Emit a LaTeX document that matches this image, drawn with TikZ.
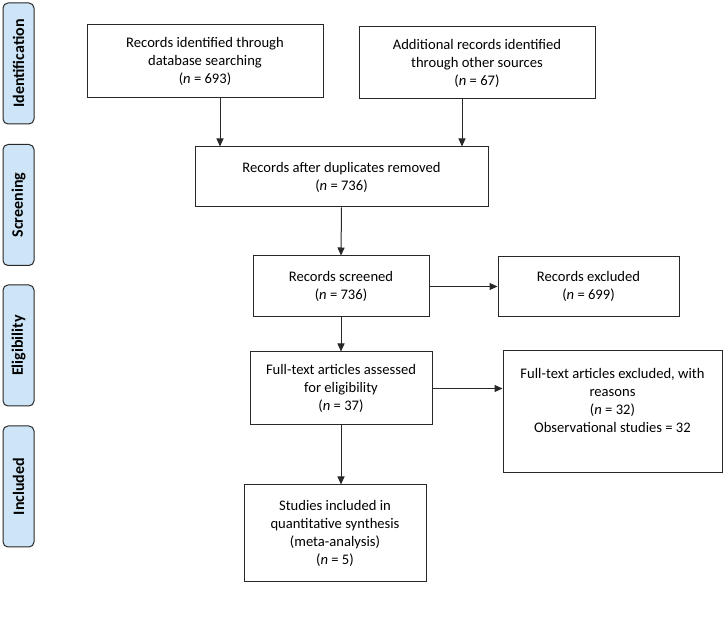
\documentclass[tikz,border=0pt]{standalone}
\usepackage{fontspec}
\setmainfont{Carlito}
\usetikzlibrary{arrows.meta,positioning}

\definecolor{colphase}{RGB}{205,229,246}
\definecolor{colline}{RGB}{40,40,40}

\begin{document}
\begin{tikzpicture}[x=1pt,y=-1pt,
  box/.style={draw=colline, line width=1pt, align=center, inner sep=2pt,
    font=\fontsize{14.6}{18}\selectfont},
  phase/.style={draw=colline, line width=1pt, fill=colphase, rounded corners=5pt,
    minimum width=121pt, minimum height=31pt, rotate=90,
    font=\fontsize{16}{18}\selectfont\bfseries},
  arr/.style={-{Triangle[length=8pt,width=7pt]}, draw=colline, line width=1pt}]

\useasboundingbox (0,0) rectangle (724,620);

%Phases
\node[phase] (ph_ident) at (18.5,63.5) {Identification};
\node[phase] (ph_screen) at (18.5,205) {Screening};
\node[phase] (ph_elig) at (18.5,345.5) {Eligibility};
\node[phase] (ph_incl) at (18.5,486.5) {Included};

%Identification
\node[box, minimum width=236pt, minimum height=73pt] (rec_db) at (205,61.5)
  {Records identified through\\ database searching\\ (\textit{n} = 693)};
\node[box, minimum width=236pt, minimum height=72pt] (rec_other) at (477,63)
  {Additional records identified\\ through other sources\\ (\textit{n} = 67)};

%Screening
\node[box, minimum width=293pt, minimum height=60pt] (rec_dup) at (341.5,177)
  {Records after duplicates removed\\ (\textit{n} = 736)};
\node[box, minimum width=176pt, minimum height=61pt] (rec_screen) at (341,286.5)
  {Records screened\\ (\textit{n} = 736)};
\node[box, minimum width=181pt, minimum height=60pt] (rec_excl) at (588.5,286.5)
  {Records excluded\\ (\textit{n} = 699)};

%Eligibility
\node[box, minimum width=182pt, minimum height=73pt] (ft_assess) at (341,388.5)
  {Full-text articles assessed\\ for eligibility\\ (\textit{n} = 37)};
\node[box, minimum width=219pt, minimum height=122pt] (ft_excl) at (612.5,412)
  {Full-text articles excluded, with\\ reasons\\ (\textit{n} = 32)\\ Observational studies = 32\\ \strut};

%Included
\node[box, minimum width=182pt, minimum height=97pt] (stud_incl) at (335,533.5)
  {Studies included in\\ quantitative synthesis\\ (meta-analysis)\\ (\textit{n} = 5)};

%Fleches
\draw[arr] ([xshift=15pt]rec_db.south) -- ([xshift=15pt]rec_db.south |- rec_dup.north);
\draw[arr] ([xshift=-15pt]rec_other.south) -- ([xshift=-15pt]rec_other.south |- rec_dup.north);
\draw[arr] (rec_dup.south) -- (rec_screen.north);
\draw[arr] (rec_screen.east) -- (rec_screen.east -| rec_excl.west);
\draw[arr] (rec_screen.south) -- (ft_assess.north);
\draw[arr] (ft_assess.east) -- (ft_assess.east -| ft_excl.west);
\draw[arr] (ft_assess.south) -- (ft_assess.south |- stud_incl.north);

\end{tikzpicture}
\end{document}
